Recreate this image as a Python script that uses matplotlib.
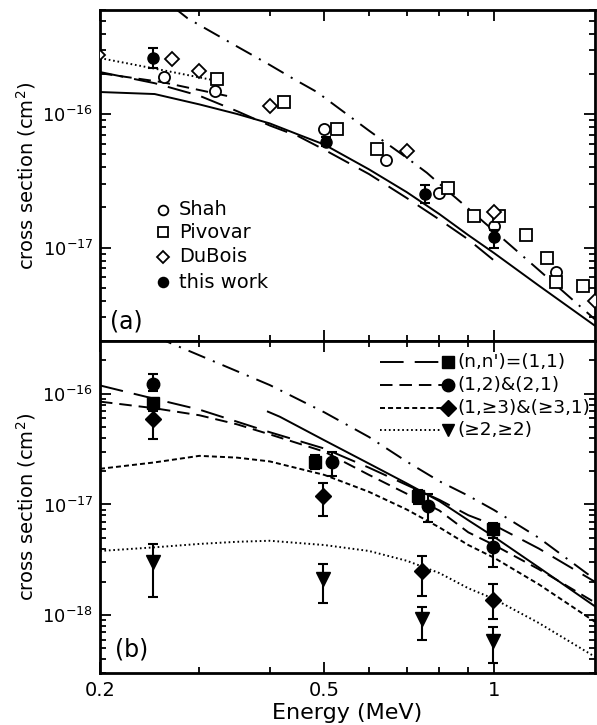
import numpy as np
import matplotlib
matplotlib.use("Agg")
import matplotlib.pyplot as plt
from matplotlib.ticker import FixedLocator, NullFormatter, FixedFormatter

plt.rcParams['font.family'] = ['DejaVu Sans']
plt.rcParams['mathtext.default'] = 'regular'
plt.rcParams['lines.scale_dashes'] = False

# ---------------- panel (a) data ----------------
shah_E = [0.26, 0.32, 0.50, 0.643, 0.80, 1.0, 1.29]
shah_cs = [1.89e-16, 1.48e-16, 7.7e-17, 4.5e-17, 2.57e-17, 1.44e-17, 6.6e-18]
piv_E = [0.322, 0.424, 0.526, 0.62, 0.83, 0.92, 1.02, 1.14, 1.24, 1.29, 1.44]
piv_cs = [1.82e-16, 1.23e-16, 7.7e-17, 5.5e-17, 2.8e-17, 1.73e-17, 1.73e-17,
          1.25e-17, 8.4e-18, 5.5e-18, 5.2e-18]
dub_E = [0.198, 0.268, 0.30, 0.40, 0.70, 1.0, 1.51]
dub_cs = [2.76e-16, 2.6e-16, 2.09e-16, 1.15e-16, 5.3e-17, 1.86e-17, 4.0e-18]
this_E = [0.248, 0.503, 0.755, 1.0]
this_cs = [2.62e-16, 6.2e-17, 2.53e-17, 1.21e-17]
this_lo = [2.2e-16, 5.8e-17, 2.17e-17, 1.0e-17]
this_hi = [3.1e-16, 6.7e-17, 2.95e-17, 1.36e-17]

a_solid_E = [0.2, 0.25, 0.3, 0.35, 0.4, 0.45, 0.5, 0.6, 0.7, 0.8, 0.9, 1.0, 1.2, 1.51]
a_solid = [1.46e-16, 1.41e-16, 1.18e-16, 1.0e-16, 8.5e-17, 7.0e-17, 5.9e-17, 3.85e-17,
           2.6e-17, 1.78e-17, 1.24e-17, 9.1e-18, 5.2e-18, 2.6e-18]
a_long_E = [0.2, 0.25, 0.3, 0.35, 0.4, 0.45, 0.5, 0.6, 0.7, 0.8, 0.9, 1.0]
a_long = [2.06e-16, 1.7e-16, 1.37e-16, 1.05e-16, 8.2e-17, 6.8e-17, 5.4e-17, 3.55e-17,
          2.35e-17, 1.62e-17, 1.15e-17, 8.0e-18]
a_dash_E = [0.2, 0.258, 0.343]
a_dash = [2.02e-16, 1.73e-16, 1.34e-16]
a_dot_E = [0.2, 0.258, 0.316]
a_dot = [2.62e-16, 2.13e-16, 1.80e-16]
a_dd_E = [0.27, 0.286, 0.35, 0.4, 0.438, 0.485, 0.6, 0.7, 0.76, 0.8, 0.9, 1.0, 1.2, 1.51]
a_dd = [6.3e-16, 5.2e-16, 3.2e-16, 2.33e-16, 1.86e-16, 1.46e-16, 7.5e-17, 4.7e-17,
        3.63e-17, 3.0e-17, 1.96e-17, 1.33e-17, 6.8e-18, 2.9e-18]

# ---------------- panel (b) data ----------------
b_E = [0.2, 0.25, 0.3, 0.35, 0.4, 0.5, 0.6, 0.7, 0.8, 0.9, 1.0, 1.2, 1.51]
b_11 = [1.19e-16, 9.0e-17, 7.2e-17, 5.6e-17, 4.5e-17, 3.2e-17, 2.15e-17, 1.5e-17,
        1.1e-17, 8.0e-18, 6.5e-18, 4.0e-18, 2.0e-18]
b_12 = [8.5e-17, 7.4e-17, 6.4e-17, 5.3e-17, 4.3e-17, 3.0e-17, 1.85e-17, 1.25e-17,
        8.8e-18, 5.6e-18, 4.3e-18, 2.6e-18, 1.3e-18]
b_13 = [2.1e-17, 2.4e-17, 2.75e-17, 2.65e-17, 2.45e-17, 1.85e-17, 1.3e-17, 9.0e-18,
        6.2e-18, 4.3e-18, 3.3e-18, 1.9e-18, 8.7e-19]
b_22 = [3.8e-18, 4.1e-18, 4.4e-18, 4.6e-18, 4.7e-18, 4.3e-18, 3.8e-18, 3.1e-18,
        2.4e-18, 1.75e-18, 1.4e-18, 8.5e-19, 4.2e-19]
b_solid_E = [0.397, 0.417, 0.5, 0.6, 0.7, 0.8, 0.9, 1.0, 1.2, 1.51]
b_solid = [6.9e-17, 6.2e-17, 3.8e-17, 2.34e-17, 1.55e-17, 1.07e-17, 7.2e-18, 5.1e-18,
           2.7e-18, 1.2e-18]
b_dd_E = [0.25, 0.3, 0.35, 0.4, 0.5, 0.6, 0.7, 0.8, 0.9, 1.0, 1.2, 1.51]
b_dd = [3.3e-16, 2.23e-16, 1.6e-16, 1.2e-16, 6.8e-17, 4.07e-17, 2.44e-17, 1.62e-17,
        1.2e-17, 8.9e-18, 5.0e-18, 2.1e-18]

sq_E = [0.248, 0.481, 0.732, 0.995]
sq_cs = [8.2e-17, 2.43e-17, 1.19e-17, 6.0e-18]
sq_lo = [7.4e-17, 2.1e-17, 1.02e-17, 5.3e-18]
sq_hi = [9.0e-17, 2.8e-17, 1.36e-17, 6.8e-18]
ci_E = [0.248, 0.516, 0.764, 0.995]
ci_cs = [1.22e-16, 2.43e-17, 9.7e-18, 4.1e-18]
ci_lo = [1.05e-16, 1.82e-17, 6.9e-18, 2.7e-18]
ci_hi = [1.5e-16, 3.0e-17, 1.25e-17, 5.0e-18]
di_E = [0.248, 0.497, 0.746, 0.995]
di_cs = [5.9e-17, 1.19e-17, 2.48e-18, 1.38e-18]
di_lo = [3.9e-17, 7.9e-18, 1.5e-18, 9.2e-19]
di_hi = [7.0e-17, 1.57e-17, 3.4e-18, 1.9e-18]
tr_E = [0.248, 0.497, 0.746, 0.995]
tr_cs = [3.0e-18, 2.1e-18, 9.3e-19, 5.8e-19]
tr_lo = [1.47e-18, 1.3e-18, 6.0e-19, 3.7e-19]
tr_hi = [4.4e-18, 2.9e-18, 1.19e-18, 7.8e-19]

legend_b = ["(n,n')=(1,1)", "(1,2)&(2,1)", "(1,\u22653)&(\u22653,1)", "(\u22652,\u22652)"]
legend_a = ["Shah", "Pivovar", "DuBois", "this work"]

x_major = [0.2, 0.5, 1.0]
x_major_labels = ["0.2", "0.5", "1"]
x_minor = [0.3, 0.4, 0.6, 0.7, 0.8, 0.9]
ya_major = [1e-17, 1e-16]
yb_major = [1e-18, 1e-17, 1e-16]

# ---------------- styles ----------------
LW = 1.4
st_long = dict(color='k', lw=LW, dashes=(17, 8))
st_dash = dict(color='k', lw=LW, dashes=(9, 5))
st_sdash = dict(color='k', lw=LW, dashes=(3.6, 2.2))
st_dot = dict(color='k', lw=LW, dashes=(1.2, 2.0))
st_dd = dict(color='k', lw=LW, dashes=(13, 6, 1.5, 6))
st_solid = dict(color='k', lw=LW)

W, H = 597, 725
fig = plt.figure(figsize=(W / 100, H / 100), dpi=100)
L, R = 100, 595
ax1 = fig.add_axes([L / W, 1 - 341 / H, (R - L) / W, 331 / H])
ax2 = fig.add_axes([L / W, 1 - 673 / H, (R - L) / W, 332 / H])


def minor_decades(lo_exp, hi_exp):
    return [m * 10.0 ** e for e in range(lo_exp, hi_exp + 1) for m in range(2, 10)]


for ax, ymaj, ymin in ((ax1, ya_major, minor_decades(-19, -16)),
                       (ax2, yb_major, minor_decades(-20, -16))):
    ax.set_xscale('log')
    ax.set_yscale('log')
    ax.set_xlim(0.2, 1.51)
    ax.xaxis.set_major_locator(FixedLocator(x_major))
    ax.xaxis.set_minor_locator(FixedLocator(x_minor))
    ax.xaxis.set_minor_formatter(NullFormatter())
    ax.yaxis.set_major_locator(FixedLocator(ymaj))
    ax.yaxis.set_minor_locator(FixedLocator(ymin))
    ax.yaxis.set_minor_formatter(NullFormatter())
    ax.yaxis.set_major_formatter(FixedFormatter(
        ["10$^{%d}$" % int(round(np.log10(v))) for v in ymaj]))
    ax.tick_params(which='both', direction='in', top=True, right=True,
                   labelsize=13, width=1.3)
    ax.tick_params(which='major', length=8)
    ax.tick_params(which='minor', length=4.5)
    ax.tick_params(axis='y', pad=5)
    for s in ax.spines.values():
        s.set_linewidth(2)
    ax.set_ylabel("cross section (cm$^2$)", fontsize=14, labelpad=3)

ax1.set_ylim(2e-18, 6e-16)
ax2.set_ylim(3e-19, 3e-16)
ax1.xaxis.set_major_formatter(NullFormatter())
ax2.xaxis.set_major_formatter(FixedFormatter(x_major_labels))
ax2.tick_params(axis='x', pad=6, labelsize=14)
ax2.set_xlabel("Energy (MeV)", fontsize=16, labelpad=2)

# ---------------- panel (a) ----------------
ax1.plot(a_solid_E, a_solid, **st_solid)
ax1.plot(a_long_E, a_long, **st_long)
ax1.plot(a_dash_E, a_dash, **st_dash)
ax1.plot(a_dot_E, a_dot, **st_dot)
ax1.plot(a_dd_E, a_dd, **st_dd)

mk_open = dict(ls='none', mfc='white', mec='k', mew=1.3, zorder=4)
ax1.plot(shah_E, shah_cs, marker='o', ms=8, **mk_open)
ax1.plot(piv_E, piv_cs, marker='s', ms=8, **mk_open)
ax1.plot(dub_E, dub_cs, marker='D', ms=7.5, **mk_open)
ax1.errorbar(this_E, this_cs,
             yerr=[np.array(this_cs) - np.array(this_lo), np.array(this_hi) - np.array(this_cs)],
             fmt='o', ms=8, color='k', mfc='k', elinewidth=1.5, capsize=3.5,
             capthick=1.5, zorder=5)

# legend (a)
leg_mk = [dict(marker='o', mfc='white'), dict(marker='s', mfc='white'),
          dict(marker='D', mfc='white'), dict(marker='o', mfc='k')]
leg_y = [0.396, 0.329, 0.254, 0.178]
for lab, kw, yy in zip(legend_a, leg_mk, leg_y):
    ax1.plot([0.127], [yy], transform=ax1.transAxes, ls='none', mec='k', mew=1.3,
             ms=7 if kw['marker'] != 'D' else 6.5, clip_on=False, **kw)
    ax1.text(0.160, yy, lab, transform=ax1.transAxes, fontsize=14, va='center', ha='left')
ax1.text(0.02, 0.06, "(a)", transform=ax1.transAxes, fontsize=17, va='center', ha='left')

# ---------------- panel (b) ----------------
ax2.plot(b_E, b_11, **st_long)
ax2.plot(b_E, b_12, **st_dash)
ax2.plot(b_E, b_13, **st_sdash)
ax2.plot(b_E, b_22, **st_dot)
ax2.plot(b_solid_E, b_solid, **st_solid)
ax2.plot(b_dd_E, b_dd, **st_dd)


def eb(ax, E, y, lo, hi, marker, ms):
    y = np.array(y); lo = np.array(lo); hi = np.array(hi)
    ax.errorbar(E, y, yerr=[y - lo, hi - y], fmt='none', ecolor='k',
                elinewidth=1.5, capsize=3.5, capthick=1.5, zorder=4)
    ax.plot(E, y, ls='none', marker=marker, ms=ms, color='k', zorder=5)


eb(ax2, sq_E, sq_cs, sq_lo, sq_hi, 's', 8.5)
eb(ax2, ci_E, ci_cs, ci_lo, ci_hi, 'o', 9)
eb(ax2, di_E, di_cs, di_lo, di_hi, 'D', 8)
eb(ax2, tr_E, tr_cs, tr_lo, tr_hi, 'v', 9.5)

# legend (b)
leg_st = [st_long, st_dash, st_sdash, st_dot]
leg_m = ['s', 'o', 'D', 'v']
leg_yb = [0.937, 0.867, 0.798, 0.732]
for lab, st, m, yy in zip(legend_b, leg_st, leg_m, leg_yb):
    ax2.plot([0.566, 0.690], [yy, yy], transform=ax2.transAxes, clip_on=False, **st)
    ax2.plot([0.703], [yy], transform=ax2.transAxes, ls='none', marker=m,
             ms=9 if m != 'D' else 8, color='k', clip_on=False)
    ax2.text(0.722, yy, lab, transform=ax2.transAxes, fontsize=13.3, va='center', ha='left')
ax2.text(0.03, 0.07, "(b)", transform=ax2.transAxes, fontsize=17, va='center', ha='left')

fig.savefig("out.png", dpi=100)
